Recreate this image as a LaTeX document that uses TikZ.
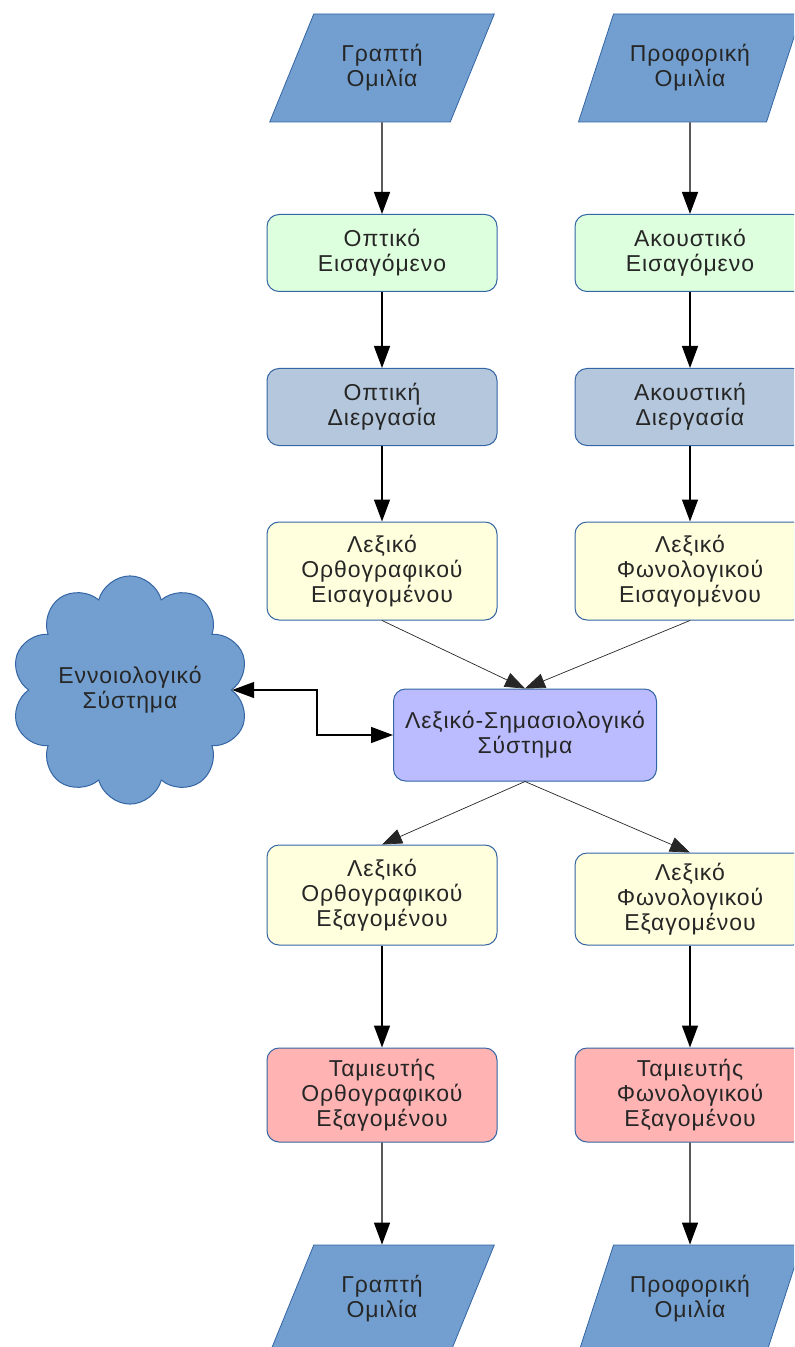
\documentclass[tikz,border=0pt]{standalone}
\usepackage{fontspec}
\setmainfont{Liberation Sans}[LetterSpace=4]
\usetikzlibrary{arrows.meta,shapes.geometric,shapes.symbols}
\definecolor{speechfill}{HTML}{729FCF}
\definecolor{speechline}{HTML}{3465A4}
\definecolor{inputfill}{HTML}{DDFFDD}
\definecolor{procfill}{HTML}{B4C7DC}
\definecolor{lexfill}{HTML}{FFFFDD}
\definecolor{semfill}{HTML}{BBBBFF}
\definecolor{bufffill}{HTML}{FFB3B3}

\begin{document}
\begin{tikzpicture}[
  x=0.5pt,
  y=-0.5pt,
  every node/.style={font=\fontsize{11.5}{12.5}\selectfont, text=black!85, align=center},
  box/.style={draw=speechline, line width=0.5pt, rounded corners=6pt,
    minimum width=115pt, minimum height=38.5pt},
  speech/.style={trapezium, trapezium left angle=63, trapezium right angle=117,
    trapezium stretches=true, draw=speechline, line width=0.4pt, fill=speechfill,
    minimum width=112.5pt, minimum height=54pt},
  flow/.style={-{Triangle[length=11pt,width=8pt]}, line width=0.7pt},
  thinflow/.style={-{Triangle[length=10pt,width=7.5pt]}, line width=0.35pt, black!85}
]
  \useasboundingbox (0,0) rectangle (794,1347);
  \clip (0,0) rectangle (794,1347);

  % input side
  \node[speech] (writtenin) at (382,68) {Γραπτή\\Ομιλία};
  \node[speech] (spokenin) at (690,68) {Προφορική\\Ομιλία};
  \node[box, fill=inputfill] (visin) at (382,253) {Οπτικό\\Εισαγόμενο};
  \node[box, fill=inputfill] (audin) at (690,253) {Ακουστικό\\Εισαγόμενο};
  \node[box, fill=procfill] (visproc) at (382,407) {Οπτική\\Διεργασία};
  \node[box, fill=procfill] (audproc) at (690,407) {Ακουστική\\Διεργασία};
  \node[box, fill=lexfill, minimum height=49pt] (orthin) at (382,571) {Λεξικό\\Ορθογραφικού\\Εισαγομένου};
  \node[box, fill=lexfill, minimum height=49pt] (phonin) at (690,571) {Λεξικό\\Φωνολογικού\\Εισαγομένου};

  % centre
  \node[box, fill=semfill, minimum width=131.5pt, minimum height=46pt] (lexsem) at (525,735) {Λεξικό-Σημασιολογικό\\Σύστημα};
  \node[cloud, cloud puffs=10, aspect=1.07, inner sep=0pt, draw=speechline, line width=0.5pt, fill=speechfill,
    minimum width=115pt, minimum height=107pt] (concept) at (130,690) {Εννοιολογικό\\Σύστημα};

  % output side
  \node[box, fill=lexfill, minimum height=50pt] (orthout) at (382,895) {Λεξικό\\Ορθογραφικού\\Εξαγομένου};
  \node[box, fill=lexfill, minimum height=46pt] (phonout) at (690,899) {Λεξικό\\Φωνολογικού\\Εξαγομένου};
  \node[box, fill=bufffill, minimum height=47pt] (orthbuf) at (382,1095) {Ταμιευτής\\Ορθογραφικού\\Εξαγομένου};
  \node[box, fill=bufffill, minimum height=47pt] (phonbuf) at (690,1095) {Ταμιευτής\\Φωνολογικού\\Εξαγομένου};
  \node[speech] (writtenout) at (382,1299) {Γραπτή\\Ομιλία};
  \node[speech] (spokenout) at (690,1299) {Προφορική\\Ομιλία};

  % straight arrows down both columns
  \foreach \a/\b in {writtenin/visin, visin/visproc, visproc/orthin,
                     spokenin/audin, audin/audproc, audproc/phonin,
                     orthout/orthbuf, orthbuf/writtenout,
                     phonout/phonbuf, phonbuf/spokenout}
    \draw[flow] (\a.south) -- (\b.north);

  % into and out of the lexical-semantic system
  \draw[thinflow] (orthin.south) -- (lexsem.north);
  \draw[thinflow] (phonin.south) -- (lexsem.north);
  \draw[thinflow] (lexsem.south) -- (orthout.north);
  \draw[thinflow] (lexsem.south) -- (phonout.north);
  \draw[flow, {Triangle[length=11pt,width=8pt]}-{Triangle[length=11pt,width=8pt]}]
    (concept.east) -- ++(85,0) |- (lexsem.west);
\end{tikzpicture}
\end{document}
